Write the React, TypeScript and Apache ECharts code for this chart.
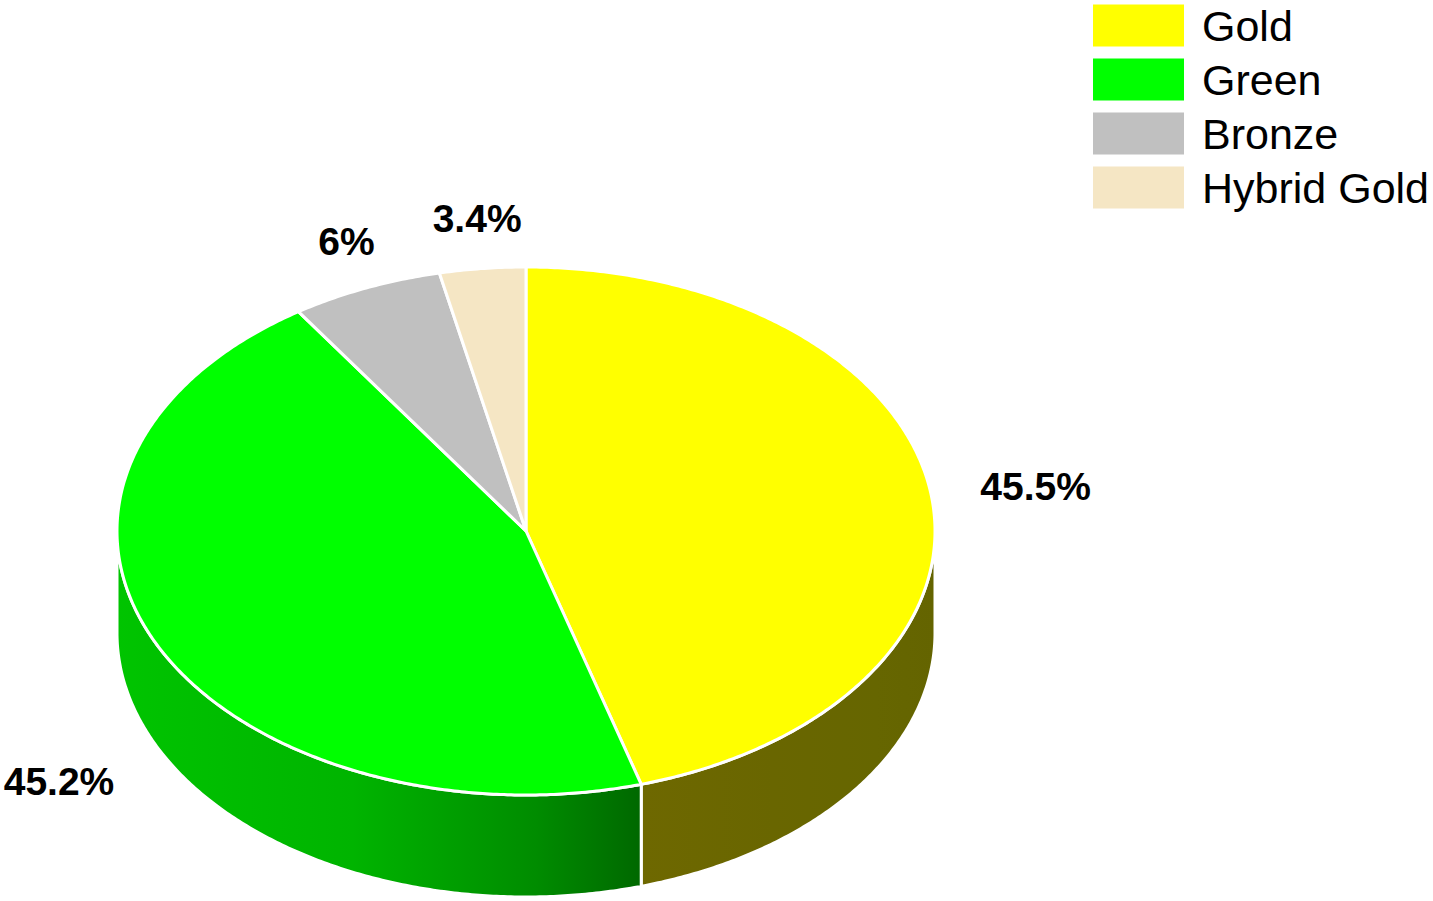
import React, { useEffect, useRef } from "react";
import * as echarts from "echarts";

const CATEGORIES = ["Gold", "Green", "Bronze", "Hybrid Gold"];
const VALUES = [45.5, 45.2, 6, 3.4];
const LABELS = ["45.5%", "45.2%", "6%", "3.4%"];

const TOP_COLORS = ["#ffff00", "#00ff00", "#c0c0c0", "#f5e6c4"];
const SIDE_STOPS = [
  ["#6e6800", "#696600", "#666600", "#646400"],
  ["#00c400", "#00b400", "#008c00", "#006800"],
  ["#909090", "#888888", "#7c7c7c", "#707070"],
  ["#b8ad93", "#b0a68d", "#a89e88", "#a09680"],
];

const FONT = "'Liberation Sans', Arial, Helvetica, sans-serif";

function renderSlice(params: any, api: any) {
  const i = params.seriesIndex;
  const W = api.getWidth();
  const H = api.getHeight();
  const cx = W * (526 / 1433);
  const cy = H * (531 / 901);
  const rx = W * (409 / 1433);
  const ry = H * (264 / 901);
  const depth = H * (102 / 901);
  const total = VALUES.reduce((a, b) => a + b, 0);
  let start = 0;
  for (let j = 0; j < i; j++) start += VALUES[j];
  const a0 = (start / total) * Math.PI * 2;
  const a1 = ((start + api.value(0)) / total) * Math.PI * 2;
  const pt = (t: number, dy: number) => [cx + rx * Math.sin(t), cy - ry * Math.cos(t) + dy];
  const arc = (t0: number, t1: number, dy: number) => {
    const n = Math.max(2, Math.ceil((t1 - t0) / (Math.PI / 360)));
    const pts: number[][] = [];
    for (let k = 0; k <= n; k++) pts.push(pt(t0 + ((t1 - t0) * k) / n, dy));
    return pts;
  };
  const children: any[] = [];
  const s0 = Math.max(a0, Math.PI / 2);
  const s1 = Math.min(a1, (Math.PI * 3) / 2);
  if (s1 > s0) {
    const top = arc(s0, s1, 0);
    const bottom = arc(s0, s1, depth).reverse();
    const st = SIDE_STOPS[i];
    children.push({
      type: "polygon",
      z2: 1,
      shape: { points: top.concat(bottom) },
      style: {
        fill: new echarts.graphic.LinearGradient(0, 0, 1, 0, [
          { offset: 0, color: st[0] },
          { offset: 0.45, color: st[1] },
          { offset: 0.8, color: st[2] },
          { offset: 1, color: st[3] },
        ]),
        stroke: "#ffffff",
        lineWidth: 3,
        lineJoin: "round",
      },
    });
  }
  children.push({
    type: "polygon",
    z2: 10,
    shape: { points: [[cx, cy]].concat(arc(a0, a1, 0)) },
    style: { fill: TOP_COLORS[i], stroke: "#ffffff", lineWidth: 3, lineJoin: "round" },
  });
  const m = (a0 + a1) / 2;
  const s = Math.sin(m);
  const c = Math.cos(m);
  const off = 50;
  const lx = cx + (rx + off) * s + (s < -0.5 ? 4 : 0);
  const ly = cy - (ry + off) * c + (c < 0 ? depth * 1.15 : 0);
  children.push({
    type: "text",
    z2: 20,
    x: lx,
    y: ly,
    style: {
      text: LABELS[i],
      fill: "#000000",
      fontSize: 39,
      fontWeight: "bold",
      fontFamily: FONT,
      align: Math.abs(s) < 0.5 ? "center" : s > 0 ? "left" : "right",
      verticalAlign: "middle",
    },
  });
  return { type: "group", children };
}

export default function App() {
  const ref = useRef<HTMLDivElement>(null);
  useEffect(() => {
    if (!ref.current) return;
    const chart = echarts.init(ref.current, undefined, { renderer: "svg" });
    chart.setOption({
      animation: false,
      backgroundColor: "#ffffff",
      legend: {
        orient: "vertical",
        left: 1093,
        top: 4,
        padding: 0,
        itemWidth: 91,
        itemHeight: 42,
        itemGap: 11,
        icon: "rect",
        selectedMode: false,
        data: CATEGORIES,
        textStyle: {
          fontSize: 43,
          lineHeight: 38,
          color: "#000000",
          fontFamily: FONT,
          padding: [0, 0, 0, 13],
        },
      },
      series: CATEGORIES.map((name, i) => ({
        type: "custom",
        name,
        coordinateSystem: "none",
        renderItem: renderSlice,
        silent: true,
        itemStyle: { color: TOP_COLORS[i] },
        data: [[VALUES[i]]],
      })),
    });
    return () => chart.dispose();
  }, []);
  return (
    <div
      ref={ref}
      style={{ position: "fixed", left: 0, top: 0, width: 1433, height: 901 }}
    />
  );
}
